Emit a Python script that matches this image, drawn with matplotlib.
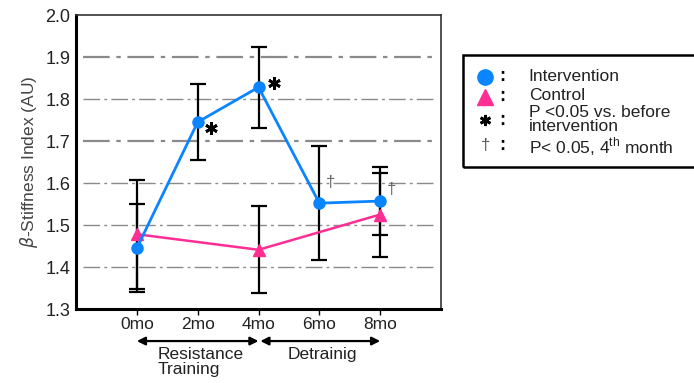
import matplotlib.pyplot as plt
from matplotlib.patches import Rectangle
import matplotlib.transforms as mtransforms

plt.rcParams['font.family'] = ['Liberation Sans', 'DejaVu Sans']
plt.rcParams['mathtext.fontset'] = 'custom'
plt.rcParams['mathtext.rm'] = 'Liberation Sans'

months = ["0mo", "2mo", "4mo", "6mo", "8mo"]
int_x = [0, 1, 2, 3, 4]
int_y = [1.445, 1.745, 1.828, 1.552, 1.557]
int_err = [0.105, 0.09, 0.097, 0.136, 0.08]
ctl_x = [0, 2, 4]
ctl_y = [1.478, 1.441, 1.525]
ctl_err = [0.13, 0.104, 0.1]
# significance marks: (index in intervention series, offset in points)
star_marks = [(1, 9.5, -4.5), (2, 11, 3)]
dagger_marks = [(3, 8, 15), (4, 8, 8)]

blue = "#0a84ff"
pink = "#ff2e93"
txt = "#222222"

fig = plt.figure(figsize=(6.94, 3.83), dpi=100)
ax = fig.add_axes([0.1095, 0.1932, 0.526, 0.7676])

for yv in [1.4, 1.5, 1.6, 1.7, 1.8, 1.9]:
    lw = 1.6 if yv in (1.7, 1.9) else 1.0
    ax.axhline(yv, xmin=0.02, xmax=0.99, color="#8a8a8a", lw=lw,
               ls=(0, (12, 3, 2, 3)), zorder=1)

ax.errorbar(ctl_x, ctl_y, yerr=ctl_err, fmt="none", ecolor="black",
            elinewidth=1.6, capsize=6, capthick=1.6, zorder=2)
ax.errorbar(int_x, int_y, yerr=int_err, fmt="none", ecolor="black",
            elinewidth=1.6, capsize=6, capthick=1.6, zorder=2)
ax.plot(ctl_x, ctl_y, color=pink, lw=1.8, marker="^", ms=8, zorder=3)
ax.plot(int_x, int_y, color=blue, lw=2.0, marker="o", ms=8, zorder=4)

for i, dx, dy in star_marks:
    tr = mtransforms.offset_copy(ax.transData, fig=fig, x=dx, y=dy, units="points")
    ax.plot(int_x[i], int_y[i], marker=(6, 2, 0), ms=9, mew=2, color="black",
            transform=tr, zorder=5)
for i, dx, dy in dagger_marks:
    ax.annotate("\u2020", (int_x[i], int_y[i]), xytext=(dx, dy),
                textcoords="offset points", fontsize=12, color="#666666",
                va="center", ha="center")

ax.set_xlim(-1, 5)
ax.set_ylim(1.3, 2.0)
ax.set_xticks(int_x)
ax.set_xticklabels(months, fontsize=12.5, color=txt)
ax.set_yticks([1.3, 1.4, 1.5, 1.6, 1.7, 1.8, 1.9, 2.0])
ax.set_yticklabels([f"{v:.1f}" for v in ax.get_yticks()], fontsize=13, color=txt)
ax.tick_params(axis="y", length=0, pad=4)
ax.tick_params(axis="x", length=4, width=1, direction="out", pad=2)
ax.set_ylabel(r"$\beta$-Stiffness Index (AU)", fontsize=12.5, color="#444444",
              labelpad=4)

for side in ["left", "bottom"]:
    ax.spines[side].set_linewidth(2.2)
for side in ["top", "right"]:
    ax.spines[side].set_linewidth(1.2)
    ax.spines[side].set_color("#333333")

trans = mtransforms.blended_transform_factory(ax.transData, ax.transAxes)
arrow = dict(arrowstyle="<|-|>", color="black", lw=1.6, mutation_scale=12,
             shrinkA=0, shrinkB=0)
ax.annotate("", xy=(0, -0.109), xytext=(2, -0.109), xycoords=trans,
            textcoords=trans, arrowprops=arrow, annotation_clip=False)
ax.annotate("", xy=(2.03, -0.109), xytext=(4, -0.109), xycoords=trans,
            textcoords=trans, arrowprops=arrow, annotation_clip=False)
ax.text(0.34, -0.128, "Resistance\nTraining", transform=trans, fontsize=12.5,
        ha="left", va="top", linespacing=1.02, color=txt)
ax.text(2.48, -0.128, "Detrainig", transform=trans, fontsize=12.5,
        ha="left", va="top", color=txt)

# legend box drawn by hand
fig.patches.append(Rectangle((0.667, 0.564), 0.345, 0.292, transform=fig.transFigure,
                             fill=False, lw=1.8, ec="black"))
leg_y = [0.799, 0.747, 0.686, 0.621]
fig.lines.append(plt.Line2D([0.699], [leg_y[0]], transform=fig.transFigure,
                            marker="o", ms=11, color=blue, ls="none"))
fig.lines.append(plt.Line2D([0.699], [leg_y[1]], transform=fig.transFigure,
                            marker="^", ms=11, color=pink, ls="none"))
fig.lines.append(plt.Line2D([0.699], [leg_y[2]], transform=fig.transFigure,
                            marker=(6, 2, 0), ms=8, mew=2, color="black", ls="none"))
fig.text(0.699, leg_y[3], "\u2020", fontsize=12, color="#555555",
         ha="center", va="center")
for yy in leg_y:
    fig.text(0.724, yy, ":", fontsize=13, fontweight="bold", ha="center", va="center")
fs = 12.5
fig.text(0.762, leg_y[0], "Intervention", fontsize=fs, va="center", color=txt)
fig.text(0.762, 0.751, "Control", fontsize=fs, va="center", color=txt)
fig.text(0.762, 0.707, "P <0.05 vs. before", fontsize=fs, va="center", color=txt)
fig.text(0.762, 0.671, "intervention", fontsize=fs, va="center", color=txt)
fig.text(0.762, 0.616, r"P< 0.05, 4$^{\rm th}$ month", fontsize=fs, va="center",
         color=txt)

fig.savefig("out.png", dpi=100)
